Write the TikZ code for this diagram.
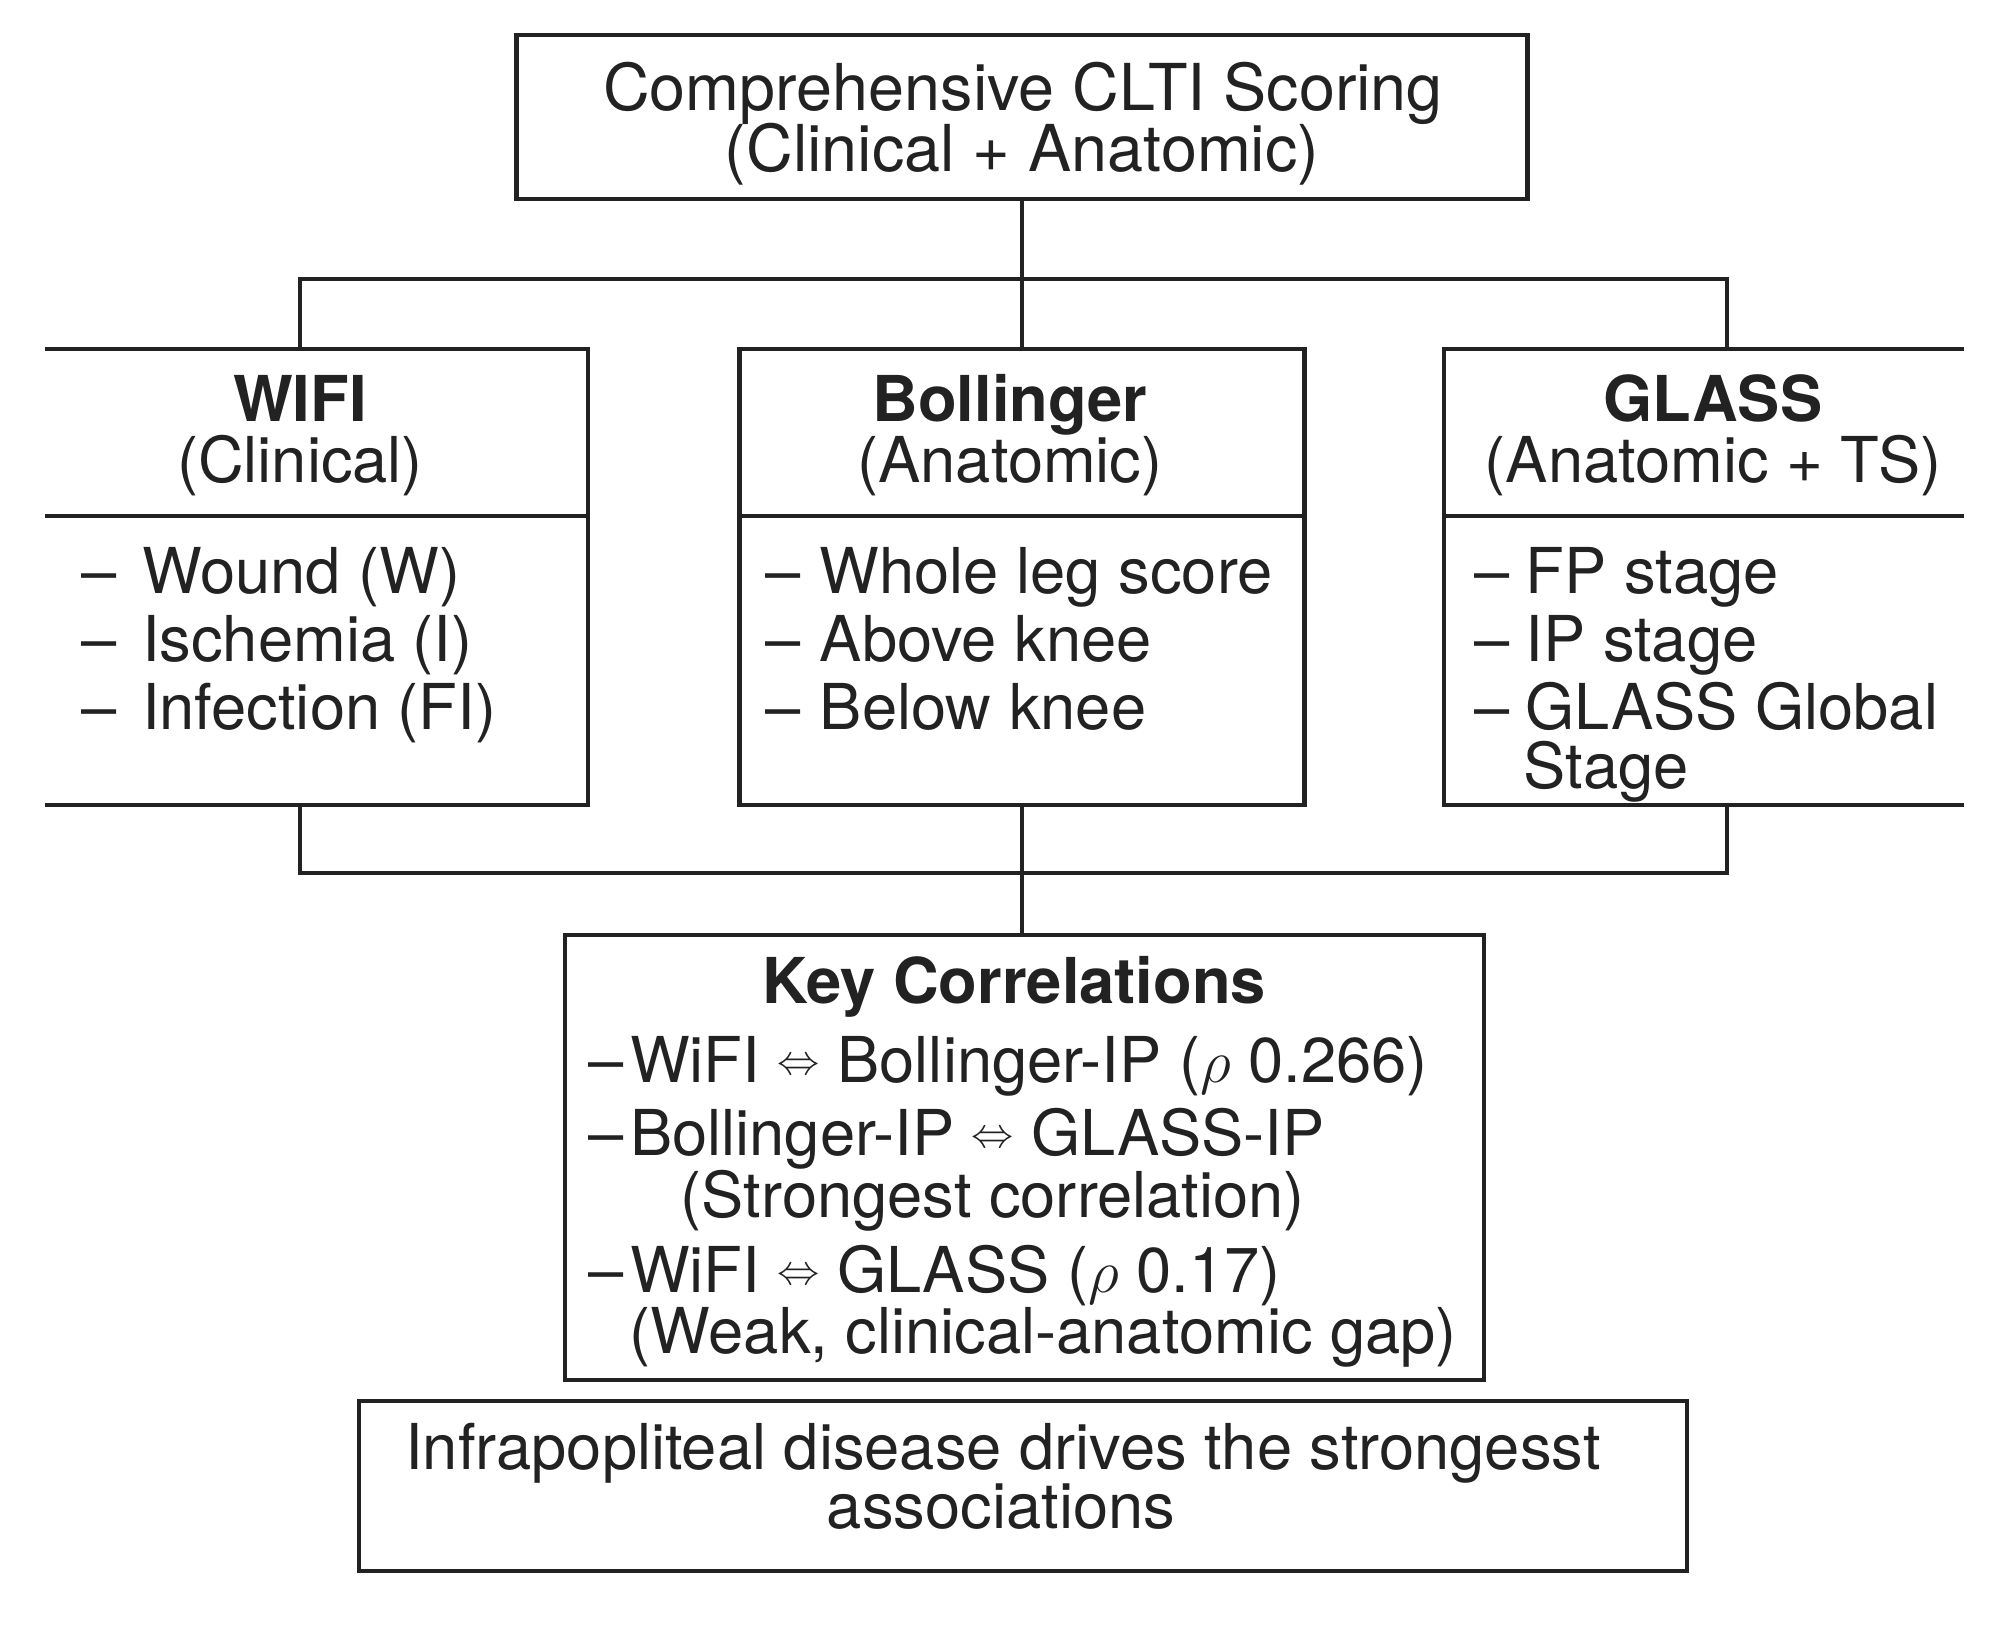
\documentclass[tikz,border=0pt]{standalone}
\usepackage{fontspec}
\setmainfont{TeX Gyre Heros}
\usetikzlibrary{calc}
\definecolor{ink}{HTML}{222222}
\newcommand{\dblarr}{\raisebox{2.2pt}{\fontsize{12}{12}\selectfont$\Leftrightarrow$}}
\begin{document}
\begin{tikzpicture}[x=1cm,y=1cm,
  boxline/.style={draw=ink, line width=1.3pt},
  conn/.style={draw=ink, line width=1.1pt},
  txt/.style={inner sep=0pt, font=\fontsize{18}{21}\selectfont, text=ink},
  ttl/.style={inner sep=0pt, font=\fontsize{18}{21}\selectfont\bfseries, text=ink},
  frame/.style={rectangle, inner sep=0pt, outer sep=0pt, line width=1.3pt, draw=ink},
  openbox/.style={rectangle, inner sep=0pt, outer sep=0pt}]
\useasboundingbox[fill=white] (0,0) rectangle (20.13,-16.28);

% top box
\node[frame, minimum width=10.11cm, minimum height=1.64cm] (top) at (10.22,-1.17) {};
\node[txt, anchor=base, font=\fontsize{18.4}{21}\selectfont] (topL1) at (10.23,-1.10) {Comprehensive CLTI Scoring};
\node[txt, anchor=base, font=\fontsize{18.4}{21}\selectfont] (topL2) at (10.22,-1.71) {(Clinical + Anatomic)};

% WIFI box (open on the left)
\node[openbox, minimum width=5.43cm, minimum height=4.56cm] (wifi) at (3.165,-5.77) {};
\draw[boxline] (wifi.north west) -- (wifi.north east) -- (wifi.south east) -- (wifi.south west);
\draw[boxline] ($(wifi.north west)+(0,-1.67)$) -- ($(wifi.north east)+(0,-1.67)$);
\node[ttl, anchor=base] (wifiT) at (3.00,-4.21) {WIFI};
\node[txt, anchor=base] (wifiS) at (3.00,-4.82) {(Clinical)};
\node[txt, anchor=base west] (w1) at (0.81,-5.93) {–\hspace{0.4em}Wound (W)};
\node[txt, anchor=base west] (w2) at (0.81,-6.61) {–\hspace{0.4em}Ischemia (I)};
\node[txt, anchor=base west] (w3) at (0.81,-7.29) {–\hspace{0.4em}Infection (FI)};

% Bollinger box
\node[frame, minimum width=5.65cm, minimum height=4.56cm] (bol) at (10.22,-5.77) {};
\draw[boxline] ($(bol.north west)+(0,-1.67)$) -- ($(bol.north east)+(0,-1.67)$);
\node[ttl, anchor=base] (bolT) at (10.10,-4.21) {Bollinger};
\node[txt, anchor=base] (bolS) at (10.10,-4.82) {(Anatomic)};
\node[txt, anchor=base west] (b1) at (7.65,-5.93) {–\hspace{0.3em}Whole leg score};
\node[txt, anchor=base west] (b2) at (7.65,-6.61) {–\hspace{0.3em}Above knee};
\node[txt, anchor=base west] (b3) at (7.65,-7.29) {–\hspace{0.3em}Below knee};

% GLASS box (open on the right)
\node[openbox, minimum width=5.20cm, minimum height=4.56cm] (glass) at (17.04,-5.77) {};
\draw[boxline] (glass.north east) -- (glass.north west) -- (glass.south west) -- (glass.south east);
\draw[boxline] ($(glass.north west)+(0,-1.67)$) -- ($(glass.north east)+(0,-1.67)$);
\node[ttl, anchor=base] (glT) at (17.13,-4.21) {GLASS};
\node[txt, anchor=base] (glS) at (17.13,-4.82) {(Anatomic + TS)};
\node[txt, anchor=base west] (g1) at (14.74,-5.93) {–\hspace{0.25em}FP stage};
\node[txt, anchor=base west] (g2) at (14.74,-6.61) {–\hspace{0.25em}IP stage};
\node[txt, anchor=base west] (g3) at (14.74,-7.29) {–\hspace{0.25em}GLASS Global};
\node[txt, anchor=base west] (g4) at (15.23,-7.88) {Stage};

% connectors
\coordinate (wcU) at (3.00,-2.79);
\coordinate (gcU) at (17.27,-2.79);
\coordinate (wcD) at (3.00,-8.73);
\coordinate (gcD) at (17.27,-8.73);
\draw[conn] (top.south) -- (bol.north);
\draw[conn] (wcU |- wifi.north) -- (wcU) -- (gcU) -- (gcU |- glass.north);
\draw[conn] (wcD |- wifi.south) -- (wcD) -- (gcD) -- (gcD |- glass.south);

% key correlations
\node[frame, minimum width=9.19cm, minimum height=4.45cm] (key) at (10.245,-11.575) {};
\draw[conn] (bol.south) -- (bol.south |- key.north);
\node[ttl, anchor=base] (keyT) at (10.14,-10.03) {Key Correlations};
\node[txt, anchor=base west] (k1) at (5.88,-10.82) {–\hspace{0.1em}WiFI \dblarr{} Bollinger-IP ($\rho$ 0.266)};
\node[txt, anchor=base west] (k2) at (5.88,-11.55) {–\hspace{0.1em}Bollinger-IP \dblarr{} GLASS-IP};
\node[txt, anchor=base west] (k3) at (6.80,-12.17) {(Strongest correlation)};
\node[txt, anchor=base west] (k4) at (5.88,-12.92) {–\hspace{0.1em}WiFI \dblarr{} GLASS ($\rho$ 0.17)};
\node[txt, anchor=base west] (k5) at (6.29,-13.53) {(Weak, clinical-anatomic gap)};

% conclusion
\node[frame, minimum width=13.28cm, minimum height=1.70cm] (fin) at (10.23,-14.86) {};
\node[txt, anchor=base] (f1) at (10.03,-14.69) {Infrapopliteal disease drives the strongesst};
\node[txt, anchor=base] (f2) at (10.01,-15.28) {associations};
\end{tikzpicture}
\end{document}
